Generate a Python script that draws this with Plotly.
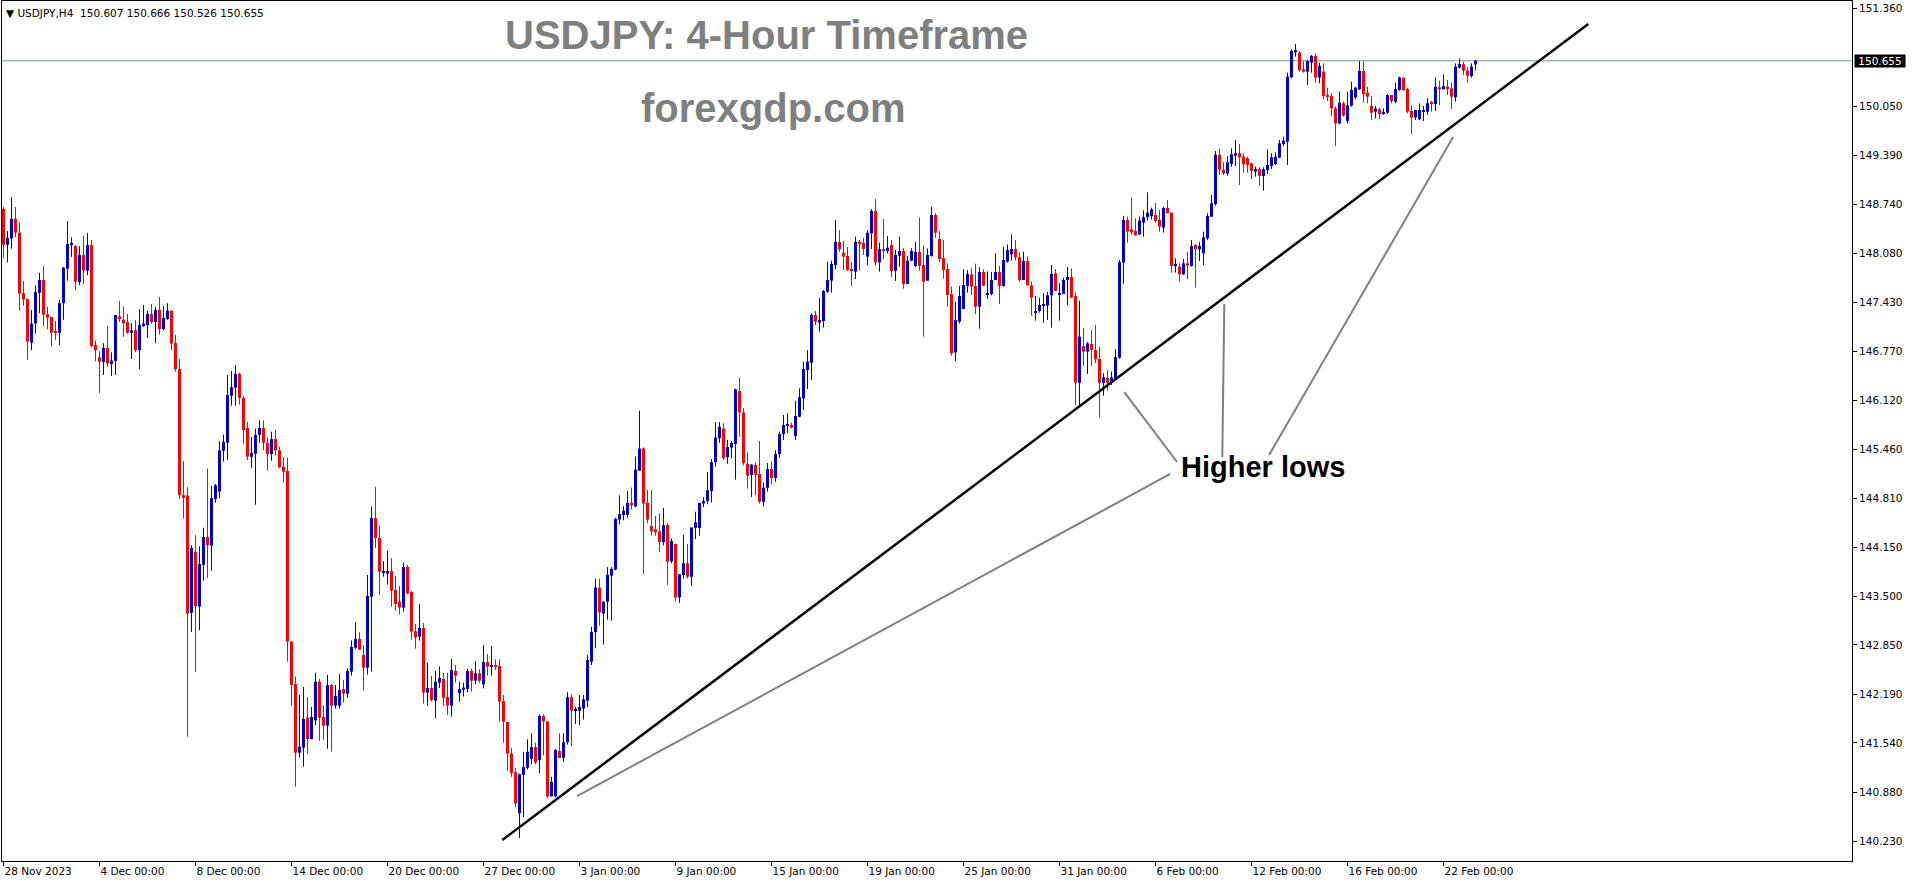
import plotly.graph_objects as go

# ---------------- data (USDJPY H4) ----------------
opens = [
    148.676, 148.197, 148.281, 148.543, 148.360, 147.549,
    147.470, 146.887, 147.144, 147.554, 147.727, 147.268,
    147.233, 147.045, 147.021, 147.416, 147.876, 148.192,
    148.182, 147.698, 148.059, 147.851, 148.192, 146.857,
    146.694, 146.630, 146.818, 146.605, 146.645, 147.243,
    147.194, 147.164, 147.021, 147.055, 146.788, 147.110,
    147.124, 147.273, 147.164, 147.327, 147.070, 147.203,
    147.317, 146.882, 146.536, 144.851, 144.846, 143.279,
    144.094, 143.363, 143.921, 144.292, 144.178, 144.801,
    144.900, 145.444, 145.552, 146.180, 146.289, 146.472,
    146.151, 145.750, 145.365, 145.404, 145.656, 145.750,
    145.550, 145.400, 145.600, 145.450, 145.232, 145.174,
    142.894, 142.328, 141.410, 141.477, 141.878, 141.593,
    141.842, 142.359, 141.887, 141.771, 142.315, 142.038,
    142.038, 142.261, 142.199, 142.493, 142.813, 142.929,
    142.715, 142.546, 143.495, 144.546, 144.279, 143.824,
    143.802, 143.838, 143.584, 143.428, 143.348, 143.891,
    143.557, 143.032, 142.960, 143.076, 142.212, 142.274,
    142.105, 142.346, 142.395, 142.154, 142.038, 142.502,
    142.203, 142.252, 142.261, 142.502, 142.372, 142.470,
    142.323, 142.622, 142.560, 142.577, 142.568, 142.101,
    141.820, 141.398, 141.150, 140.600, 141.112, 141.208,
    141.327, 141.485, 141.312, 141.900, 141.828, 140.826,
    140.826, 141.432, 141.341, 141.551, 142.152, 141.971,
    141.971, 142.000, 142.105, 142.625, 143.021, 143.617,
    143.269, 143.427, 143.775, 143.856, 144.524, 144.586,
    144.586, 144.748, 144.701, 145.178, 145.474, 144.748,
    144.438, 144.395, 144.367, 144.224, 144.452, 143.966,
    144.200, 143.484, 143.784, 143.942, 143.761, 144.414,
    144.414, 144.739, 144.772, 144.906, 145.292, 145.612,
    145.741, 145.359, 145.488, 145.536, 146.242, 145.956,
    145.269, 145.120, 145.254, 145.135, 144.763, 144.950,
    145.200, 145.080, 145.400, 145.668, 145.779, 145.788,
    145.641, 145.900, 146.145, 146.523, 146.621, 147.258,
    147.156, 147.178, 147.570, 147.717, 147.926, 148.234,
    148.091, 148.046, 147.873, 147.837, 148.238, 148.220,
    148.038, 148.349, 148.648, 147.962, 148.140, 148.113,
    148.193, 147.851, 148.051, 148.113, 147.672, 147.984,
    147.913, 148.100, 147.926, 147.717, 148.046, 148.594,
    148.274, 148.020, 147.873, 147.539, 146.759, 147.169,
    147.338, 147.646, 147.801, 147.646, 147.369, 147.833,
    147.525, 147.539, 147.726, 147.833, 147.646, 147.971,
    148.069, 148.140, 148.029, 147.726, 147.980, 147.655,
    147.290, 147.312, 147.383, 147.383, 147.521, 147.815,
    147.535, 147.539, 147.726, 147.766, 147.512, 146.354,
    146.844, 146.769, 146.871, 146.791, 146.671, 146.354,
    146.417, 146.354, 146.412, 146.688, 147.958, 148.528,
    148.403, 148.381, 148.336, 148.492, 148.564, 148.581,
    148.595, 148.528, 148.425, 148.688, 148.626, 147.913,
    147.904, 147.802, 147.949, 147.913, 148.194, 148.136,
    148.082, 148.283, 148.572, 148.742, 149.400, 149.200,
    149.150, 149.276, 149.387, 149.419, 149.374, 149.352,
    149.285, 149.174, 149.209, 149.116, 149.196, 149.249,
    149.276, 149.361, 149.543, 149.575, 150.434, 150.768,
    150.764, 150.541, 150.510, 150.630, 150.719, 150.430,
    150.510, 150.198, 150.185, 150.020, 149.819, 150.087,
    149.851, 150.056, 150.167, 150.274, 150.519, 150.229,
    150.051, 149.975, 150.007, 149.944, 149.962, 150.198,
    150.109, 150.265, 150.430, 150.278, 149.984, 149.900,
    149.873, 149.975, 149.975, 150.096, 150.078, 150.301,
    150.274, 150.309, 150.287, 150.167, 150.563, 150.608,
    150.523, 150.452, 150.607,
]

highs = [
    148.700, 148.380, 148.835, 148.701, 148.498, 147.713,
    147.480, 147.327, 147.653, 147.821, 147.915, 147.367,
    147.233, 147.179, 147.460, 147.900, 148.513, 148.296,
    148.192, 148.177, 148.316, 148.355, 148.261, 146.917,
    146.773, 146.882, 147.110, 146.759, 147.258, 147.446,
    147.371, 147.273, 147.149, 147.189, 147.337, 147.391,
    147.312, 147.406, 147.367, 147.500, 147.376, 147.416,
    147.317, 146.991, 146.670, 145.305, 144.959, 144.183,
    144.317, 144.168, 144.416, 145.206, 144.974, 144.999,
    145.572, 145.661, 146.457, 146.511, 146.590, 146.487,
    146.175, 145.829, 145.627, 145.740, 145.854, 145.850,
    145.620, 145.700, 145.720, 145.500, 145.360, 145.350,
    142.902, 142.426, 142.181, 142.288, 142.154, 142.021,
    142.479, 142.395, 142.043, 142.448, 142.328, 142.315,
    142.462, 142.381, 142.537, 142.911, 143.152, 143.018,
    142.849, 143.784, 144.697, 144.965, 144.439, 143.971,
    144.105, 144.012, 143.771, 143.637, 143.949, 143.918,
    143.571, 143.130, 143.397, 143.143, 142.613, 142.435,
    142.506, 142.560, 142.475, 142.479, 142.662, 142.582,
    142.359, 142.346, 142.528, 142.533, 142.635, 142.524,
    142.849, 142.729, 142.836, 142.658, 142.658, 142.181,
    141.820, 141.470, 141.208, 141.130, 141.422, 141.589,
    141.670, 141.542, 141.923, 141.923, 141.828, 141.088,
    141.456, 141.670, 141.670, 142.219, 142.186, 142.019,
    142.181, 142.181, 142.716, 143.093, 143.737, 143.737,
    143.436, 143.890, 143.890, 144.548, 144.849, 144.705,
    144.906, 144.954, 145.369, 145.980, 145.488, 144.920,
    144.920, 144.572, 144.610, 144.682, 144.476, 144.271,
    144.200, 143.794, 144.319, 144.200, 144.419, 144.629,
    144.748, 144.825, 145.159, 145.335, 145.827, 145.827,
    145.813, 145.588, 145.574, 146.275, 146.423, 146.018,
    145.421, 145.264, 145.288, 145.574, 145.020, 145.280,
    145.300, 145.450, 145.700, 145.922, 145.944, 145.819,
    146.113, 146.278, 146.635, 146.790, 147.280, 147.312,
    147.490, 147.592, 147.971, 147.984, 148.528, 148.394,
    148.247, 148.167, 147.962, 148.305, 148.260, 148.291,
    148.394, 148.674, 148.808, 148.225, 148.541, 148.314,
    148.260, 148.127, 148.305, 148.153, 148.046, 148.149,
    148.238, 148.559, 148.185, 148.149, 148.701, 148.617,
    148.381, 148.260, 147.948, 147.637, 147.436, 147.646,
    147.868, 147.859, 147.882, 147.944, 147.895, 147.868,
    147.842, 147.833, 148.082, 147.913, 148.167, 148.202,
    148.336, 148.261, 148.091, 148.105, 148.038, 147.704,
    147.512, 147.490, 147.548, 147.566, 147.927, 147.873,
    147.682, 147.757, 147.900, 147.882, 147.561, 147.450,
    147.085, 146.898, 147.058, 147.125, 146.835, 146.479,
    146.524, 146.501, 146.804, 147.993, 148.581, 148.572,
    148.826, 148.550, 148.572, 148.657, 148.898, 148.693,
    148.755, 148.662, 148.706, 148.795, 148.626, 148.016,
    147.949, 148.007, 148.105, 148.261, 148.207, 148.238,
    148.372, 148.617, 148.862, 149.450, 149.480, 149.300,
    149.380, 149.485, 149.597, 149.543, 149.419, 149.374,
    149.294, 149.240, 149.232, 149.232, 149.472, 149.419,
    149.432, 149.597, 149.641, 150.497, 150.808, 150.880,
    150.786, 150.648, 150.666, 150.733, 150.755, 150.630,
    150.621, 150.296, 150.220, 150.042, 150.243, 150.109,
    150.243, 150.376, 150.309, 150.652, 150.652, 150.309,
    150.185, 150.051, 150.029, 150.020, 150.207, 150.198,
    150.363, 150.443, 150.430, 150.296, 150.056, 149.998,
    150.087, 150.051, 150.154, 150.118, 150.430, 150.390,
    150.474, 150.399, 150.367, 150.621, 150.688, 150.643,
    150.568, 150.621, 150.666,
]

lows = [
    148.014, 147.960, 148.143, 148.296, 147.317, 147.381,
    146.655, 146.788, 147.011, 147.282, 147.110, 147.070,
    146.838, 146.927, 146.857, 147.194, 147.717, 148.034,
    147.594, 147.658, 147.673, 147.792, 146.823, 146.640,
    146.215, 146.457, 146.566, 146.442, 146.457, 147.164,
    146.966, 147.006, 146.670, 146.763, 146.536, 147.100,
    146.951, 147.139, 146.882, 146.996, 147.055, 147.194,
    146.788, 146.502, 144.801, 144.539, 141.623, 143.022,
    142.488, 143.046, 143.709, 143.743, 143.842, 144.752,
    144.811, 145.300, 145.320, 146.047, 146.047, 146.062,
    145.538, 145.320, 145.211, 144.722, 145.550, 145.450,
    145.178, 145.310, 145.380, 145.210, 145.018, 142.626,
    142.038, 140.956, 141.344, 141.223, 141.397, 141.588,
    141.780, 141.571, 141.580, 141.464, 141.424, 141.998,
    141.998, 142.079, 142.145, 142.439, 142.796, 142.787,
    142.239, 142.453, 142.493, 144.145, 143.517, 143.762,
    143.655, 143.361, 143.308, 143.259, 143.294, 143.526,
    142.920, 142.800, 142.907, 142.065, 142.038, 142.092,
    141.869, 142.274, 142.038, 141.914, 141.891, 142.350,
    142.092, 142.159, 142.217, 142.225, 142.323, 142.346,
    142.270, 142.439, 142.439, 142.515, 141.825, 141.544,
    141.170, 141.088, 140.683, 140.270, 140.550, 141.184,
    141.255, 141.255, 141.136, 141.375, 140.802, 140.826,
    140.812, 141.341, 141.289, 141.518, 141.494, 141.794,
    141.780, 141.852, 142.019, 142.582, 142.806, 143.107,
    142.854, 143.188, 143.174, 143.847, 144.462, 144.515,
    144.548, 144.658, 144.691, 145.178, 143.799, 144.476,
    144.309, 144.309, 144.090, 144.180, 143.651, 143.942,
    143.436, 143.412, 143.737, 143.737, 143.641, 144.262,
    144.309, 144.691, 144.729, 144.753, 145.230, 145.550,
    145.326, 145.273, 145.345, 145.059, 145.631, 145.249,
    144.939, 144.825, 144.849, 144.739, 144.700, 144.900,
    145.000, 145.030, 145.350, 145.588, 145.677, 145.744,
    145.588, 145.891, 145.989, 146.269, 146.390, 147.125,
    147.035, 147.089, 147.557, 147.557, 147.868, 148.104,
    147.859, 147.846, 147.646, 147.739, 147.851, 148.060,
    147.926, 148.140, 147.917, 147.837, 148.002, 148.082,
    147.766, 147.712, 147.904, 147.610, 147.672, 147.980,
    147.895, 147.851, 146.969, 147.717, 148.038, 148.291,
    147.966, 147.744, 147.369, 146.715, 146.643, 147.147,
    147.338, 147.557, 147.525, 147.271, 147.076, 147.646,
    147.472, 147.521, 147.726, 147.405, 147.637, 147.957,
    147.985, 147.985, 147.704, 147.726, 147.646, 147.250,
    147.183, 147.290, 147.156, 147.192, 147.089, 147.579,
    147.183, 147.539, 147.392, 147.481, 146.056, 146.056,
    146.581, 146.470, 146.581, 146.613, 145.891, 146.181,
    146.247, 146.323, 146.399, 146.675, 147.677, 148.225,
    148.336, 148.314, 148.327, 148.305, 148.519, 148.537,
    148.492, 148.372, 148.359, 148.617, 147.824, 147.824,
    147.704, 147.793, 147.740, 147.904, 147.624, 147.980,
    147.927, 148.261, 148.572, 148.720, 149.130, 149.130,
    149.120, 149.240, 149.249, 148.996, 149.160, 149.160,
    149.071, 149.107, 148.982, 148.920, 149.142, 149.209,
    149.263, 149.352, 149.517, 149.263, 150.421, 150.710,
    150.510, 150.497, 150.332, 150.497, 150.363, 150.354,
    150.140, 150.118, 149.917, 149.517, 149.806, 149.909,
    149.819, 150.042, 150.140, 150.265, 150.100, 150.087,
    149.864, 149.886, 149.873, 149.931, 149.944, 150.087,
    150.087, 150.256, 150.252, 149.953, 149.677, 149.864,
    149.864, 149.851, 149.931, 149.975, 149.984, 150.064,
    150.274, 150.198, 150.011, 150.109, 150.554, 150.465,
    150.363, 150.430, 150.526,
]

closes = [
    148.197, 148.286, 148.543, 148.360, 147.544, 147.465,
    146.902, 147.144, 147.564, 147.727, 147.263, 147.223,
    147.021, 147.021, 147.416, 147.891, 148.207, 148.222,
    147.703, 148.059, 147.851, 148.192, 146.843, 146.788,
    146.635, 146.818, 146.610, 146.650, 147.258, 147.203,
    147.149, 147.021, 147.055, 146.788, 147.124, 147.144,
    147.273, 147.164, 147.327, 147.070, 147.218, 147.317,
    146.877, 146.536, 144.851, 144.826, 143.269, 144.144,
    143.368, 143.931, 144.292, 144.183, 144.811, 144.984,
    145.449, 145.562, 146.190, 146.294, 146.472, 146.151,
    145.721, 145.365, 145.414, 145.656, 145.750, 145.550,
    145.400, 145.600, 145.450, 145.223, 145.165, 142.894,
    142.315, 141.410, 141.491, 141.860, 141.593, 141.887,
    142.359, 141.878, 141.771, 142.315, 142.038, 142.168,
    142.248, 142.199, 142.502, 142.822, 142.929, 142.787,
    142.546, 143.504, 144.546, 144.279, 143.829, 143.838,
    143.838, 143.575, 143.397, 143.348, 143.891, 143.539,
    143.027, 142.947, 143.076, 142.212, 142.274, 142.114,
    142.355, 142.408, 142.145, 142.038, 142.515, 142.439,
    142.261, 142.279, 142.502, 142.372, 142.470, 142.372,
    142.622, 142.560, 142.582, 142.568, 142.092, 141.825,
    141.397, 141.136, 140.730, 141.122, 141.217, 141.422,
    141.485, 141.279, 141.900, 141.828, 140.826, 141.017,
    141.446, 141.341, 141.551, 142.152, 141.971, 141.995,
    142.019, 142.124, 142.649, 143.021, 143.617, 143.283,
    143.427, 143.785, 143.866, 144.534, 144.596, 144.644,
    144.748, 144.715, 145.192, 145.474, 144.739, 144.524,
    144.367, 144.357, 144.228, 144.452, 143.961, 144.238,
    143.484, 143.794, 143.942, 143.761, 144.419, 144.486,
    144.748, 144.772, 144.915, 145.292, 145.622, 145.765,
    145.345, 145.493, 145.550, 146.266, 145.956, 145.278,
    145.111, 145.259, 145.121, 144.763, 144.950, 145.200,
    145.080, 145.400, 145.668, 145.788, 145.797, 145.753,
    145.909, 146.158, 146.537, 146.635, 147.258, 147.169,
    147.191, 147.579, 147.726, 147.940, 148.234, 148.136,
    148.038, 147.859, 147.846, 148.234, 148.207, 148.140,
    148.358, 148.648, 147.962, 148.140, 148.113, 148.158,
    147.846, 148.060, 148.113, 147.672, 147.984, 148.113,
    148.100, 147.917, 147.704, 148.060, 148.594, 148.358,
    148.006, 147.859, 147.525, 146.746, 147.191, 147.512,
    147.659, 147.806, 147.637, 147.369, 147.833, 147.650,
    147.552, 147.726, 147.833, 147.646, 147.993, 148.127,
    148.140, 148.029, 147.726, 147.980, 147.655, 147.490,
    147.312, 147.392, 147.392, 147.521, 147.806, 147.579,
    147.552, 147.726, 147.766, 147.490, 146.354, 146.969,
    146.769, 146.880, 146.791, 146.666, 146.354, 146.426,
    146.354, 146.426, 146.697, 147.967, 148.528, 148.372,
    148.363, 148.323, 148.519, 148.564, 148.626, 148.670,
    148.515, 148.439, 148.688, 148.617, 147.913, 147.935,
    147.802, 147.949, 147.918, 148.180, 148.136, 148.180,
    148.296, 148.581, 148.751, 149.400, 149.200, 149.150,
    149.300, 149.405, 149.419, 149.365, 149.272, 149.263,
    149.183, 149.209, 149.116, 149.205, 149.263, 149.365,
    149.374, 149.552, 149.588, 150.443, 150.786, 150.799,
    150.532, 150.510, 150.648, 150.719, 150.430, 150.586,
    150.185, 150.176, 150.020, 149.819, 150.096, 149.922,
    150.060, 150.265, 150.296, 150.519, 150.211, 150.176,
    149.962, 150.015, 149.944, 149.971, 150.198, 150.118,
    150.278, 150.430, 150.265, 149.975, 149.895, 149.998,
    149.998, 149.998, 150.087, 150.078, 150.309, 150.274,
    150.318, 150.287, 150.176, 150.577, 150.612, 150.523,
    150.456, 150.577, 150.655,
]

# time axis: bar index of each label and its text
date_tick_bars = [0, 24, 48, 72, 96, 120, 144, 168, 192, 216, 240, 264, 288, 312, 336, 360]
date_tick_labels = ["28 Nov 2023", "4 Dec 00:00", "8 Dec 00:00", "14 Dec 00:00", "20 Dec 00:00",
                    "27 Dec 00:00", "3 Jan 00:00", "9 Jan 00:00", "15 Jan 00:00", "19 Jan 00:00",
                    "25 Jan 00:00", "31 Jan 00:00", "6 Feb 00:00", "12 Feb 00:00", "16 Feb 00:00",
                    "22 Feb 00:00"]
price_ticks = [140.230, 140.880, 141.540, 142.190, 142.850, 143.500, 144.150, 144.810, 145.460,
               146.120, 146.770, 147.430, 148.080, 148.740, 149.390, 150.050, 151.360]

# drawn objects (bar index, price)
trend_line = [(124.7, 140.243), (396.2, 151.147)]
pointer_lines = [
    [(143.4, 140.831), (291.7, 145.134)],
    [(280.2, 146.229), (293.4, 145.294)],
    [(305.2, 147.405), (304.7, 145.361)],
    [(316.4, 145.388), (362.4, 149.637)],
]

# ---------------- styling / layout constants ----------------
W, H = 1916, 884
PL, PR, PT, PB = 2, 1852, 1, 861          # plot area in pixels
BLUE, RED = "#0000CC", "#FF0000"
AXFONT = dict(family="DejaVu Sans", size=10.5, color="black")


def px_to_paper(x, y):
    return (x - PL) / (PR - PL), 1 - (y - PT) / (PB - PT)


n = len(closes)
idx = list(range(n))
is_up = [c >= o for o, c in zip(opens, closes)]
MIN_BODY = 0.014

fig = go.Figure()

# wicks
for up_flag, col in ((True, BLUE), (False, RED)):
    wx, wy = [], []
    for i in idx:
        if is_up[i] == up_flag:
            wx += [i, i, None]
            wy += [lows[i], highs[i], None]
    fig.add_trace(go.Scatter(x=wx, y=wy, mode="lines", line=dict(color=col, width=1),
                             hoverinfo="skip", showlegend=False))

# bodies
for up_flag, col in ((True, BLUE), (False, RED)):
    bx, bbase, bh = [], [], []
    for i in idx:
        if is_up[i] == up_flag:
            lo = min(opens[i], closes[i])
            bx.append(i)
            bbase.append(lo)
            bh.append(max(abs(closes[i] - opens[i]), MIN_BODY))
    fig.add_trace(go.Bar(x=bx, y=bh, base=bbase, width=0.75,
                         marker=dict(color=col, line=dict(width=0)),
                         hoverinfo="skip", showlegend=False))

last_close = closes[-1]

shapes = [
    dict(type="line", xref="paper", yref="y", x0=0, x1=1, y0=last_close, y1=last_close,
         line=dict(color="#8090A0", width=1), layer="below"),
    dict(type="line", xref="x", yref="y", x0=trend_line[0][0], y0=trend_line[0][1],
         x1=trend_line[1][0], y1=trend_line[1][1], line=dict(color="black", width=2.5)),
]
for (a, b) in pointer_lines:
    shapes.append(dict(type="line", xref="x", yref="y", x0=a[0], y0=a[1], x1=b[0], y1=b[1],
                       line=dict(color="#808080", width=2)))

annotations = []
hx, hy = px_to_paper(4, 13)
annotations.append(dict(
    xref="paper", yref="paper", x=hx, y=hy, xanchor="left", yanchor="middle", showarrow=False,
    text="\u25BC USDJPY,H4\u00a0\u00a0%.3f %.3f %.3f %.3f" % (opens[-1], highs[-1], lows[-1], closes[-1]),
    font=AXFONT))
tx, ty = px_to_paper(766, 35)
annotations.append(dict(xref="paper", yref="paper", x=tx, y=ty, xanchor="center", yanchor="middle",
                        showarrow=False, text="<b>USDJPY: 4-Hour Timeframe</b>",
                        font=dict(family="Liberation Sans", size=40, color="#7F7F7F")))
fx, fy = px_to_paper(773, 108)
annotations.append(dict(xref="paper", yref="paper", x=fx, y=fy, xanchor="center", yanchor="middle",
                        showarrow=False, text="<b>forexgdp.com</b>",
                        font=dict(family="Liberation Sans", size=40, color="#7F7F7F")))
lx, ly = px_to_paper(1263, 467)
annotations.append(dict(xref="paper", yref="paper", x=lx, y=ly, xanchor="center", yanchor="middle",
                        showarrow=False, text="<b>Higher lows</b>",
                        font=dict(family="Liberation Sans", size=29, color="black")))
px_, _ = px_to_paper(1854, 0)
annotations.append(dict(xref="paper", yref="y", x=px_, y=last_close, xanchor="left", yanchor="middle",
                        showarrow=False, text="%.3f" % last_close, bgcolor="black", borderpad=0,
                        width=50, height=12, align="center",
                        font=dict(family="DejaVu Sans", size=10.5, color="white")))

fig.update_layout(
    width=W, height=H,
    margin=dict(l=PL, r=W - PR, t=PT, b=H - PB),
    plot_bgcolor="white", paper_bgcolor="white",
    showlegend=False, barmode="overlay", hovermode=False,
    shapes=shapes, annotations=annotations,
)
fig.update_xaxes(
    type="linear",
    range=[(PL - 3.5) / 4.0, (PR - 3.5) / 4.0],
    tickmode="array", tickvals=date_tick_bars, ticktext=date_tick_labels,
    ticks="outside", ticklen=4, tickcolor="black", ticklabelposition="outside right",
    showgrid=False, zeroline=False, showline=True, linecolor="black", linewidth=1, mirror=True,
    tickfont=AXFONT,
)
fig.update_yaxes(
    side="right",
    range=[140.230 - (PB - 841) / 74.84, 140.230 + (841 - PT) / 74.84],
    tickmode="array", tickvals=price_ticks, ticktext=["%.3f" % v for v in price_ticks],
    ticks="outside", ticklen=4, tickcolor="black",
    showgrid=False, zeroline=False, showline=True, linecolor="black", linewidth=1, mirror=True,
    tickfont=AXFONT,
)

# the page's default 8px body margin would push the figure off its 1916x884 frame
fig.write_html(
    "out.html",
    config={"displayModeBar": False},
    post_script="document.body.style.margin='0';document.body.style.overflow='hidden';",
)
